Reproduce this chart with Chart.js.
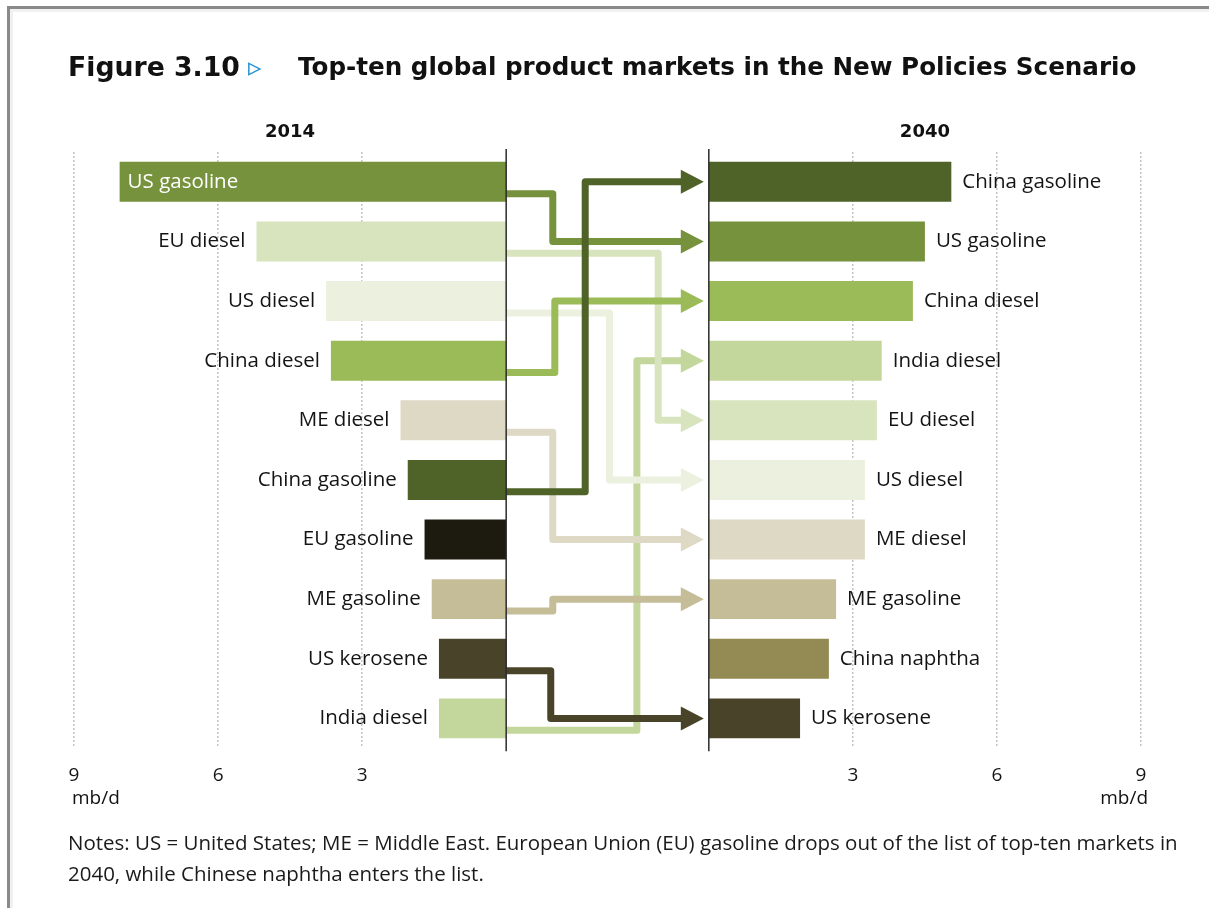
<!DOCTYPE html>
<html>
<head>
<meta charset="utf-8">
<script src="https://cdn.jsdelivr.net/npm/chart.js@4.4.1/dist/chart.umd.min.js"></script>
<style>
  body { margin: 0; background: #fff; }
  #page { position: relative; width: 1209px; height: 908px; overflow: hidden; font-family: "Open Sans", sans-serif; }
  #frame { position: absolute; left: 7px; top: 6px; width: 1220px; height: 920px;
           border-left: 3px solid #8a8a8a; border-top: 3px solid #8a8a8a;
           box-shadow: inset 3px 3px 0 #f1f1f1; }
  canvas { position: absolute; left: 0; top: 0; }
  .t { position: absolute; white-space: nowrap; color: #111; }
  #fig { left: 68px; top: 52px; font: bold 25px "DejaVu Sans", sans-serif; line-height: 30px; }
  #tri { left: 248px; top: 50px; font: 27px "DejaVu Sans", sans-serif; line-height: 34px; color: #2a93d5; }
  #ttl { left: 298px; top: 52px; font: bold 25px "DejaVu Sans", sans-serif; line-height: 30px; }
  .note { left: 68px; font-size: 18px; line-height: 31px; color: #1a1a1a; }
</style>
</head>
<body>
<div id="page">
  <div id="frame"></div>
  <canvas id="grafico" width="1209" height="908"></canvas>
  <div class="t" id="fig">Figure 3.10</div>
  <div class="t" id="tri">▹</div>
  <div class="t" id="ttl">Top-ten global product markets in the New Policies Scenario</div>
  <div class="t note" id="note1" style="top:827px">Notes: US = United States; ME = Middle East. European Union (EU) gasoline drops out of the list of top-ten markets in</div>
  <div class="t note" id="note2" style="top:858px">2040, while Chinese naphtha enters the list.</div>
</div>
<script>
// datos (mb/d)
const products2014 = ["US gasoline", "EU diesel", "US diesel", "China diesel", "ME diesel",
                      "China gasoline", "EU gasoline", "ME gasoline", "US kerosene", "India diesel"];
const demand2014 = [8.05, 5.2, 3.75, 3.65, 2.2, 2.05, 1.7, 1.55, 1.4, 1.4];

const products2040 = ["China gasoline", "US gasoline", "China diesel", "India diesel", "EU diesel",
                      "US diesel", "ME diesel", "ME gasoline", "China naphtha", "US kerosene"];
const demand2040 = [5.05, 4.5, 4.25, 3.6, 3.5, 3.25, 3.25, 2.65, 2.5, 1.9];

const tickValues = [3, 6, 9];
const years = ["2014", "2040"];
const unitLabel = "mb/d";

const colores = {
    "US gasoline": "#76923c",
    "EU diesel": "#d7e4bd",
    "US diesel": "#ebf1de",
    "China diesel": "#9bbb59",
    "ME diesel": "#ddd9c4",
    "China gasoline": "#4f6228",
    "EU gasoline": "#1d1b10",
    "ME gasoline": "#c4bd97",
    "US kerosene": "#494429",
    "India diesel": "#c3d69b",
    "China naphtha": "#948a54"
};

// mitad del hueco central entre los dos paneles, en unidades del eje
const gap = 2.11;
const maxVal = 9;

// donde dobla cada flecha (fracción del hueco central) y orden de dibujo
const arrowLane = {
    "India diesel": 0.645, "US diesel": 0.51, "EU diesel": 0.75, "ME diesel": 0.23,
    "ME gasoline": 0.23, "China diesel": 0.24, "US gasoline": 0.23, "US kerosene": 0.22,
    "China gasoline": 0.39
};

const labelFont = '20.5px "Open Sans", sans-serif';

function drawArrows(chart) {
    const { ctx, scales: { x, y } } = chart;
    const left0 = x.getPixelForValue(-gap);
    const right0 = x.getPixelForValue(gap);
    const rowH = y.getPixelForValue(1) - y.getPixelForValue(0);
    const tip = right0 - 5;
    const base = tip - 23;
    ctx.save();
    ctx.lineWidth = 7;
    ctx.lineJoin = "round";
    Object.keys(arrowLane).forEach(p => {
        const i = products2014.indexOf(p);
        const j = products2040.indexOf(p);
        if (i < 0 || j < 0) return;
        const y0 = y.getPixelForValue(i) + rowH * 0.2;
        const y1 = y.getPixelForValue(j);
        const lx = left0 + (right0 - left0) * arrowLane[p];
        ctx.strokeStyle = colores[p];
        ctx.fillStyle = colores[p];
        ctx.beginPath();
        ctx.moveTo(left0, y0);
        ctx.lineTo(lx, y0);
        ctx.lineTo(lx, y1);
        ctx.lineTo(base + 2, y1);
        ctx.stroke();
        ctx.beginPath();
        ctx.moveTo(base, y1 - 12);
        ctx.lineTo(tip, y1);
        ctx.lineTo(base, y1 + 12);
        ctx.closePath();
        ctx.fill();
    });
    ctx.restore();
}

const panelPlugin = {
    id: "panel",
    afterDatasetsDraw(chart) {
        const { ctx, chartArea, scales: { x, y } } = chart;
        const left0 = x.getPixelForValue(-gap);
        const right0 = x.getPixelForValue(gap);

        drawArrows(chart);

        // ejes centrales
        ctx.save();
        ctx.strokeStyle = "#2b2b2b";
        ctx.lineWidth = 1.5;
        [left0, right0].forEach(px => {
            ctx.beginPath();
            ctx.moveTo(px, chartArea.top - 3);
            ctx.lineTo(px, chartArea.bottom + 3);
            ctx.stroke();
        });

        // etiquetas de las barras
        ctx.font = labelFont;
        ctx.textBaseline = "middle";
        products2014.forEach((p, i) => {
            const yy = y.getPixelForValue(i);
            const bx = x.getPixelForValue(-gap - demand2014[i]);
            const w = ctx.measureText(p).width;
            if (bx - w - 12 < chartArea.left) {
                ctx.fillStyle = "#ffffff";
                ctx.textAlign = "left";
                ctx.fillText(p, bx + 8, yy);
            } else {
                ctx.fillStyle = "#141414";
                ctx.textAlign = "right";
                ctx.fillText(p, bx - 11, yy);
            }
        });
        products2040.forEach((p, i) => {
            const yy = y.getPixelForValue(i);
            const bx = x.getPixelForValue(gap + demand2040[i]);
            ctx.fillStyle = "#141414";
            ctx.textAlign = "left";
            ctx.fillText(p, bx + 11, yy);
        });

        // años
        ctx.font = 'bold 18px "DejaVu Sans", sans-serif';
        ctx.textAlign = "center";
        ctx.fillStyle = "#111";
        const leftMid = (x.getPixelForValue(-gap - maxVal) + left0) / 2;
        const rightMid = (x.getPixelForValue(gap + maxVal) + right0) / 2;
        ctx.fillText(years[0], leftMid, chartArea.top - 20);
        ctx.fillText(years[1], rightMid, chartArea.top - 20);

        // unidades
        ctx.font = '19px "Open Sans", sans-serif';
        ctx.textAlign = "left";
        ctx.fillText(unitLabel, x.getPixelForValue(-gap - maxVal) - 2, chartArea.bottom + 50);
        ctx.textAlign = "right";
        ctx.fillText(unitLabel, x.getPixelForValue(gap + maxVal) + 7, chartArea.bottom + 50);
        ctx.restore();
    }
};

const allTicks = [];
tickValues.slice().reverse().forEach(v => allTicks.push(-gap - v));
allTicks.push(-gap, gap);
tickValues.forEach(v => allTicks.push(gap + v));

const ctx = document.getElementById("grafico").getContext("2d");
new Chart(ctx, {
    type: "bar",
    data: {
        labels: products2014.map((p, i) => i + 1),
        datasets: [
            {
                label: years[0],
                data: demand2014.map(v => [-gap - v, -gap]),
                backgroundColor: products2014.map(p => colores[p]),
                grouped: false,
                barPercentage: 0.67,
                categoryPercentage: 1
            },
            {
                label: years[1],
                data: demand2040.map(v => [gap, gap + v]),
                backgroundColor: products2040.map(p => colores[p]),
                grouped: false,
                barPercentage: 0.67,
                categoryPercentage: 1
            }
        ]
    },
    options: {
        indexAxis: "y",
        responsive: false,
        animation: false,
        layout: { padding: { left: 74, right: 68, top: 152, bottom: 105 } },
        plugins: { legend: { display: false }, tooltip: { enabled: false } },
        scales: {
            y: { display: false, offset: true },
            x: {
                type: "linear",
                min: -gap - maxVal,
                max: gap + maxVal,
                afterBuildTicks: scale => { scale.ticks = allTicks.map(v => ({ value: v })); },
                grid: {
                    drawTicks: false,
                    color: c => (Math.abs(Math.abs(c.tick.value) - gap) < 0.01 ? "rgba(0,0,0,0)" : "#c4c4c4"),
                    lineWidth: 1.5
                },
                border: { display: false, dash: [2, 2] },
                ticks: {
                    padding: 16,
                    color: "#141414",
                    font: { family: "Open Sans", size: 19 },
                    maxRotation: 0,
                    autoSkip: false,
                    callback: value => {
                        const v = Math.round(Math.abs(value) - gap);
                        return v === 0 ? "" : String(v);
                    }
                }
            }
        }
    },
    plugins: [panelPlugin]
});

// ajustar el ancho de los textos al original
function ajustarAncho(el, ancho) {
    const size = parseFloat(getComputedStyle(el).fontSize);
    const w = el.getBoundingClientRect().width;
    el.style.fontSize = (size * ancho / w) + "px";
    return size * ancho / w;
}
ajustarAncho(document.getElementById("fig"), 172);
ajustarAncho(document.getElementById("ttl"), 839);
const s = ajustarAncho(document.getElementById("note1"), 1110);
document.getElementById("note2").style.fontSize = s + "px";
</script>
</body>
</html>
